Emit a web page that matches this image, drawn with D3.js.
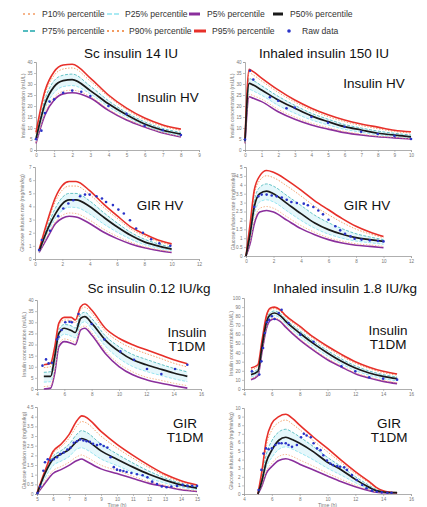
<!DOCTYPE html>
<html>
<head>
<meta charset="utf-8">
<script src="https://cdn.jsdelivr.net/npm/d3@7"></script>
<style>
  body { margin: 0; background: #fff; }
  svg { display: block; font-family: "Liberation Sans", Arial, sans-serif; }
</style>
</head>
<body>
<div id="chart"></div>
<script>
// ---- data ----
var legendLabels = ["P10% percentile", "P25% percentile", "P5% percentile", "P50% percentile",
                    "P75% percentile", "P90% percentile", "P95% percentile", "Raw data"];

// panel 1: Sc insulin 14 IU, insulin HV
var t1 = [0, 0.5, 1, 1.5, 2, 3, 4, 5, 6, 7, 8];
var p1_95 = [8, 27, 35.6, 38.6, 39, 32.7, 25, 19, 14.5, 11.4, 9.5];
var p1_90 = [7.3, 25.5, 33.9, 36.8, 37.3, 31.3, 24.3, 18.3, 13.8, 10.8, 8.9];
var p1_75 = [6, 23.1, 31.5, 34, 34.5, 29, 22.4, 17, 12.8, 9.8, 8];
var p1_50 = [5, 21, 28.8, 31.5, 32, 27, 21, 16, 11.8, 9, 7.2];
var p1_25 = [4.1, 18.8, 26.1, 28.8, 29.3, 25.5, 19.7, 15, 11.2, 8.4, 6.6];
var p1_10 = [3.4, 17, 23.9, 26.7, 27.2, 24.3, 18.6, 14.1, 10.7, 8, 6.2];
var p1_5  = [3, 16, 22.7, 25.5, 26, 23.6, 18, 13.6, 10.4, 7.7, 5.9];
var raw1t = [0, 0.3, 0.5, 0.75, 1, 1.5, 2, 2.5, 3, 4, 5, 6, 7, 8];
var raw1v = [5, 8.8, 16.8, 22, 23, 26, 27, 26.5, 24.5, 20, 16.4, 11, 9, 6.8];

// panel 2: inhaled insulin 150 IU, insulin HV
var t2 = [0, 0.25, 0.5, 1, 2, 3, 4, 5, 6, 7, 8, 9, 10];
var p2_95 = [5, 36.7, 35.6, 32.7, 27.3, 22.7, 19, 16, 13.6, 11.8, 10.4, 9, 8.3];
var p2_90 = [4.8, 35.1, 34.1, 31.4, 26.2, 21.8, 18.1, 15.2, 12.9, 11.1, 9.7, 8.4, 7.7];
var p2_75 = [4.4, 32.5, 31.6, 29.2, 24.4, 20.3, 16.7, 14, 11.6, 10, 8.6, 7.6, 6.8];
var p2_50 = [4, 30.3, 29.5, 27.3, 22.7, 19, 15.5, 12.9, 10.6, 9.1, 7.6, 6.8, 6];
var p2_25 = [3.6, 27.6, 26.8, 24.9, 20.3, 16.7, 13.7, 11.4, 9.4, 8.1, 6.9, 6.3, 5.6];
var p2_10 = [3.2, 25.4, 24.7, 23.1, 18.5, 15, 12.2, 10.2, 8.4, 7.3, 6.3, 5.8, 5.2];
var p2_5  = [3, 24.2, 23.5, 22, 17.4, 14, 11.4, 9.5, 7.9, 6.8, 6, 5.5, 5];
var raw2t = [0, 0.3, 0.5, 1.5, 2, 2.5, 3, 4, 5, 6, 7, 8, 9, 10];
var raw2v = [4.8, 36, 32, 24, 22.4, 19, 19.3, 15, 12.4, 10.6, 8.3, 7.3, 6.4, 5];

// panel 3: Sc insulin 14 IU, GIR HV
var t3 = [0.3, 1, 1.5, 2, 2.5, 3, 4, 5, 6, 7, 8, 9, 10];
var p3_95 = [0.7, 3.2, 4.7, 5.6, 5.9, 5.9, 5.2, 4.2, 3.3, 2.45, 1.9, 1.45, 1.15];
var p3_90 = [0.68, 3.01, 4.39, 5.25, 5.55, 5.55, 4.9, 3.95, 3.1, 2.29, 1.75, 1.34, 1.05];
var p3_75 = [0.64, 2.71, 3.89, 4.69, 4.99, 4.99, 4.42, 3.55, 2.75, 2.03, 1.51, 1.16, 0.89];
var p3_50 = [0.6, 2.45, 3.45, 4.2, 4.5, 4.5, 4.0, 3.2, 2.45, 1.8, 1.3, 1.0, 0.75];
var p3_25 = [0.56, 2.16, 3.11, 3.7, 3.94, 3.92, 3.42, 2.68, 2.05, 1.51, 1.1, 0.84, 0.64];
var p3_10 = [0.52, 1.93, 2.85, 3.32, 3.5, 3.46, 2.96, 2.28, 1.73, 1.28, 0.94, 0.72, 0.55];
var p3_5  = [0.5, 1.8, 2.7, 3.1, 3.25, 3.2, 2.7, 2.05, 1.55, 1.15, 0.85, 0.65, 0.5];
var raw3t = [0.3, 0.5, 1.1, 1.7, 2.07, 2.44, 2.8, 3.3, 3.66, 4.0, 4.5, 4.9, 5.2, 5.7, 6.1, 6.5, 6.95, 7.4, 7.9, 8.5, 9.1, 9.9];
var raw3v = [0.68, 1.44, 2.15, 3.26, 3.84, 4.22, 4.47, 4.77, 4.9, 4.9, 4.77, 4.6, 4.34, 4.1, 3.76, 3.46, 2.95, 2.32, 2.0, 1.5, 1.2, 1.0];

// panel 4: inhaled insulin 150 IU, GIR HV
var t4 = [0, 0.3, 0.6, 1, 1.5, 2, 3, 4, 5, 6, 7, 8, 9, 10];
var p4_95 = [0, 1.8, 3.7, 4.5, 4.8, 4.7, 4.25, 3.7, 3.1, 2.6, 2.1, 1.67, 1.35, 1.1];
var p4_90 = [0, 1.66, 3.46, 4.25, 4.51, 4.4, 3.92, 3.37, 2.79, 2.32, 1.88, 1.51, 1.24, 1.03];
var p4_75 = [0, 1.44, 3.08, 3.86, 4.05, 3.92, 3.38, 2.84, 2.29, 1.87, 1.53, 1.25, 1.07, 0.92];
var p4_50 = [0, 1.25, 2.75, 3.5, 3.65, 3.5, 2.94, 2.38, 1.85, 1.48, 1.22, 1.03, 0.92, 0.82];
var p4_25 = [0, 1.0, 2.32, 3.04, 3.16, 3.04, 2.52, 2.0, 1.56, 1.23, 1.0, 0.84, 0.75, 0.66];
var p4_10 = [0, 0.81, 1.99, 2.68, 2.78, 2.68, 2.19, 1.71, 1.33, 1.03, 0.83, 0.69, 0.62, 0.54];
var p4_5  = [0, 0.7, 1.8, 2.47, 2.56, 2.47, 2.0, 1.54, 1.2, 0.92, 0.73, 0.6, 0.54, 0.47];
var raw4t = [0.6, 0.9, 1.14, 1.5, 1.87, 2.23, 2.6, 2.96, 3.3, 3.7, 4.2, 4.5, 4.9, 5.26, 5.6, 6.0, 6.5, 6.85, 7.2, 7.6, 7.9, 8.4, 9.0, 9.6, 10];
var raw4v = [2.75, 3.35, 3.45, 3.45, 3.4, 3.35, 3.28, 3.16, 3.03, 2.98, 2.94, 2.85, 2.75, 2.56, 2.34, 2.04, 1.67, 1.44, 1.25, 1.1, 0.97, 0.92, 0.88, 0.84, 0.82];

// panel 5: Sc insulin 0.12 IU/kg, insulin T1DM
var t5 = [4.5, 5, 5.3, 5.6, 6, 6.5, 6.8, 7.2, 7.5, 8, 9, 10, 11, 12, 13, 14, 15];
var p5_95 = [10.9, 11.6, 19, 29.6, 32.2, 32.2, 31, 37, 38.2, 35.5, 27.3, 22.8, 19.9, 17.6, 15.4, 13.1, 11.3];
var p5_90 = [9.6, 10.1, 17.9, 28.5, 31, 30.8, 29.8, 35.7, 36.8, 34, 26, 21.3, 18.2, 15.9, 13.8, 11.6, 9.9];
var p5_75 = [7.5, 7.8, 16.1, 26.6, 29, 28.4, 27.4, 33.6, 34.5, 31.7, 23.9, 19, 15.5, 13.3, 11.2, 9.3, 7.7];
var p5_50 = [5.7, 5.7, 14.6, 25, 27.3, 26.3, 25.4, 31.8, 32.5, 29.6, 22, 16.9, 13.1, 10.9, 9, 7.2, 5.7];
var p5_25 = [3.1, 3.3, 11.3, 22.3, 24.6, 23.8, 23, 29.3, 30.2, 27.2, 19.3, 13.8, 10.1, 7.9, 6.2, 4.6, 3.3];
var p5_10 = [1.1, 1.5, 8.7, 20.2, 22.5, 21.7, 21, 27.6, 28.3, 25.4, 17.2, 11.4, 7.7, 5.3, 4, 2.6, 1.5];
var p5_5  = [0, 0.4, 7.2, 19, 21.3, 20.6, 19.9, 26.6, 27.3, 24.3, 16, 10.1, 6.4, 4.2, 2.7, 1.5, 0.4];
var raw5t = [4.4, 4.66, 4.85, 5.1, 5.46, 5.58, 5.8, 6.07, 6.38, 6.55, 7.04, 8.0, 8.93, 10.1, 11.1, 12.05, 13.1, 14.1, 15];
var raw5v = [10.5, 13.3, 11.5, 11.8, 22.3, 23.5, 26.5, 30, 30.2, 30, 33.7, 29.2, 22.3, 16.9, 13.1, 9, 6.7, 9, 10.9];

// panel 6: inhaled insulin 1.8 IU/kg, insulin T1DM
var t6 = [4.5, 5, 5.3, 5.6, 5.9, 6.2, 6.6, 7, 8, 9, 10, 11, 12, 13, 14, 15];
var p6_95 = [23, 26.7, 54, 80, 89, 90, 87, 80.6, 69, 57, 47, 38, 30, 24, 19.4, 16.5];
var p6_90 = [21.2, 24.9, 52.3, 78.1, 87.1, 88.4, 85.4, 79, 67.1, 55.2, 45.2, 36.1, 28.3, 22.4, 18, 15.2];
var p6_75 = [18.3, 22, 49.5, 75.1, 84.2, 85.8, 82.8, 76.6, 64.1, 52.3, 42.3, 33.1, 25.5, 19.8, 15.8, 13.2];
var p6_50 = [15.8, 19.4, 47, 72.5, 81.7, 83.5, 80.6, 74.4, 61.5, 49.8, 39.6, 30.4, 23, 17.6, 13.9, 11.4];
var p6_25 = [13.3, 17.3, 44.5, 69.6, 78.9, 80.6, 77.8, 71.5, 58.1, 46.5, 36.3, 27.6, 20.2, 15.1, 11.4, 8.9];
var p6_10 = [11.4, 15.6, 42.5, 67.3, 76.7, 78.3, 75.6, 69.3, 55.5, 44, 33.7, 25.4, 18, 13.1, 9.5, 7];
var p6_5  = [10.3, 14.7, 41.4, 66, 75.5, 77, 74.4, 68, 54, 42.5, 32.2, 24.2, 16.8, 12, 8.4, 5.9];
var raw6t = [4.57, 5.1, 5.25, 5.37, 5.5, 5.65, 5.8, 6.0, 6.2, 6.5, 6.7, 7.2, 8.05, 9.0, 11, 12, 13, 14, 15];
var raw6v = [19.4, 15.8, 30.4, 45, 61.5, 73.3, 76, 80, 77, 83.5, 87, 72.5, 59.7, 52, 25, 19.4, 12.8, 11.4, 10.3];

// panel 7: Sc insulin 0.12 IU/kg, GIR T1DM
var t7 = [5, 5.5, 6, 6.5, 7, 7.5, 7.8, 8, 9, 10, 11, 12, 13, 14, 15];
var p7_95 = [0.05, 1.2, 2.2, 2.57, 3.07, 3.8, 4.04, 4.0, 3.24, 2.57, 2.0, 1.48, 1.02, 0.69, 0.47];
var p7_90 = [0.04, 1.17, 2.1, 2.44, 2.88, 3.53, 3.75, 3.71, 2.99, 2.38, 1.85, 1.37, 0.94, 0.63, 0.43];
var p7_75 = [0.02, 1.11, 1.94, 2.24, 2.57, 3.1, 3.28, 3.23, 2.58, 2.07, 1.6, 1.18, 0.83, 0.55, 0.36];
var p7_50 = [0, 1.06, 1.8, 2.06, 2.3, 2.73, 2.87, 2.82, 2.23, 1.8, 1.39, 1.02, 0.72, 0.47, 0.3];
var p7_25 = [0, 0.83, 1.47, 1.7, 1.93, 2.33, 2.39, 2.33, 1.81, 1.47, 1.12, 0.81, 0.57, 0.36, 0.22];
var p7_10 = [0, 0.65, 1.21, 1.42, 1.64, 1.93, 2.02, 1.95, 1.49, 1.21, 0.92, 0.64, 0.46, 0.27, 0.16];
var p7_5  = [0, 0.55, 1.06, 1.26, 1.48, 1.73, 1.81, 1.73, 1.3, 1.06, 0.8, 0.55, 0.39, 0.22, 0.13];
var raw7t = [5.04, 5.2, 5.4, 5.5, 5.67, 5.83, 6.04, 6.25, 6.46, 6.67, 6.9, 7.1, 7.3, 7.5, 7.7, 7.9, 8.1, 8.3, 8.5, 8.75, 8.96, 9.17, 9.4, 9.6, 9.8, 10, 10.2, 10.4, 10.6, 10.9, 11.25, 11.6, 11.9, 12.2, 12.5, 12.8, 13.1, 13.4, 13.75, 14.1, 14.4, 14.7, 15];
var raw7v = [0.05, 0.39, 1.2, 1.64, 1.8, 1.73, 1.8, 1.9, 2.06, 2.15, 2.3, 2.4, 2.65, 2.73, 2.82, 2.77, 2.73, 2.7, 2.6, 2.53, 2.57, 2.48, 2.4, 1.9, 1.39, 1.26, 1.22, 1.19, 1.14, 1.09, 1.02, 0.97, 0.86, 0.64, 0.52, 0.39, 0.35, 0.39, 0.42, 0.47, 0.42, 0.42, 0.42];

// panel 8: inhaled insulin 1.8 IU/kg, GIR T1DM
var t8 = [5, 5.3, 5.6, 6, 6.5, 7, 7.5, 8, 9, 10, 11, 12, 13, 13.5, 14, 15];
var p8_95 = [0, 2.8, 6.25, 8.2, 9.0, 9.27, 8.76, 8.0, 6.6, 5.3, 3.9, 2.6, 1.43, 0.77, 0.39, 0.15];
var p8_90 = [0, 2.5, 5.61, 7.43, 8.31, 8.6, 8.1, 7.48, 6.18, 4.9, 3.63, 2.38, 1.27, 0.67, 0.35, 0.15];
var p8_75 = [0, 2.02, 4.59, 6.19, 7.21, 7.53, 7.16, 6.64, 5.5, 4.26, 3.18, 2.02, 1.0, 0.52, 0.29, 0.15];
var p8_50 = [0, 1.6, 3.7, 5.1, 6.25, 6.6, 6.3, 5.9, 4.9, 3.7, 2.8, 1.7, 0.77, 0.39, 0.23, 0.15];
var p8_25 = [0, 1.33, 3.12, 4.25, 5.19, 5.48, 5.2, 4.81, 3.96, 3.0, 2.18, 1.32, 0.6, 0.3, 0.2, 0.12];
var p8_10 = [0, 1.12, 2.66, 3.58, 4.37, 4.6, 4.35, 3.96, 3.22, 2.42, 1.7, 1.02, 0.47, 0.24, 0.17, 0.09];
var p8_5  = [0, 1.0, 2.4, 3.2, 3.9, 4.1, 3.86, 3.47, 2.8, 2.1, 1.43, 0.85, 0.39, 0.2, 0.15, 0.08];
var raw8t = [5.05, 5.25, 5.4, 5.58, 5.77, 6.0, 6.25, 6.5, 6.7, 7, 7.2, 7.45, 7.8, 8.1, 8.3, 8.5, 8.8, 9.0, 9.25, 9.5, 9.7, 9.96, 10.2, 10.4, 10.7, 10.9, 11.2, 11.4, 11.76, 12.1, 12.5, 12.8, 13.2, 13.55, 13.9, 14.3, 14.6];
var raw8v = [0.46, 2.8, 4.7, 5.3, 5.2, 5.3, 5.7, 5.9, 5.9, 5.9, 5.7, 5.5, 5.7, 6.6, 7.0, 6.8, 6.6, 5.9, 5.3, 5.1, 4.5, 3.9, 3.55, 3.36, 3.24, 3.17, 3.1, 2.8, 2.2, 1.62, 1.04, 0.66, 0.39, 0.27, 0.19, 0.15, 0.15];

var titles = ["Sc insulin 14 IU", "Inhaled insulin 150 IU", "Sc insulin 0.12 IU/kg", "Inhaled insulin 1.8 IU/kg"];
var insideLabels = [["Insulin HV"], ["Insulin HV"], ["GIR HV"], ["GIR HV"],
                    ["Insulin", "T1DM"], ["Insulin", "T1DM"], ["GIR", "T1DM"], ["GIR", "T1DM"]];
var yTitles = ["Insulin concentration (mU/L)", "Glucose infusion rate (mg/min/kg)"];

// ---- styles and layout ----
var colors = { p5: "#8a2f9c", p10: "#f6b48a", p25: "#8fe3ef", p50: "#1a1a1a",
               p75: "#55bcc0", p90: "#f39a60", p95: "#e7302a", raw: "#2a33c8" };

var panels = [
  { t: t1, s: [p1_5, p1_10, p1_25, p1_50, p1_75, p1_90, p1_95], rt: raw1t, rv: raw1v,
    x0: 36, x1: 199, yt: 62, yb: 150, xd: [0, 9], xs: 1, yd: [0, 40], ys: 5, yl: 0,
    lab: [168, 97] },
  { t: t2, s: [p2_5, p2_10, p2_25, p2_50, p2_75, p2_90, p2_95], rt: raw2t, rv: raw2v,
    x0: 245, x1: 411, yt: 62, yb: 150, xd: [0, 10], xs: 1, yd: [0, 40], ys: 5, yl: 0,
    lab: [374, 83] },
  { t: t3, s: [p3_5, p3_10, p3_25, p3_50, p3_75, p3_90, p3_95], rt: raw3t, rv: raw3v,
    x0: 35, x1: 199, yt: 167, yb: 259, xd: [0, 12], xs: 2, yd: [0, 7], ys: 1, yl: 1,
    lab: [160, 205] },
  { t: t4, s: [p4_5, p4_10, p4_25, p4_50, p4_75, p4_90, p4_95], rt: raw4t, rv: raw4v,
    x0: 246, x1: 411, yt: 167, yb: 256, xd: [0, 12], xs: 2, yd: [0, 5], ys: 0.5, yl: 1,
    lab: [367, 205] },
  { t: t5, s: [p5_5, p5_10, p5_25, p5_50, p5_75, p5_90, p5_95], rt: raw5t, rv: raw5v,
    x0: 37, x1: 201, yt: 300, yb: 389, xd: [4, 16], xs: 2, yd: [0, 40], ys: 5, yl: 0,
    lab: [187, 332] },
  { t: t6, s: [p6_5, p6_10, p6_25, p6_50, p6_75, p6_90, p6_95], rt: raw6t, rv: raw6v,
    x0: 244, x1: 411, yt: 298, yb: 389, xd: [4, 16], xs: 2, yd: [0, 100], ys: 10, yl: 0,
    lab: [388, 330] },
  { t: t7, s: [p7_5, p7_10, p7_25, p7_50, p7_75, p7_90, p7_95], rt: raw7t, rv: raw7v,
    x0: 37, x1: 197, yt: 407, yb: 494, xd: [5, 15], xs: 1, yd: [0, 4.5], ys: 0.5, yl: 1,
    lab: [185, 423] },
  { t: t8, s: [p8_5, p8_10, p8_25, p8_50, p8_75, p8_90, p8_95], rt: raw8t, rv: raw8v,
    x0: 244, x1: 411, yt: 408, yb: 494, xd: [4, 16], xs: 2, yd: [0, 10], ys: 1, yl: 1,
    lab: [389, 423] }
];

var seriesStyle = [
  { c: colors.p5,  w: 1.6, dash: null },
  { c: colors.p10, w: 0.9, dash: "1.5,1.5" },
  { c: colors.p25, w: 0.9, dash: "3,1.5" },
  { c: colors.p50, w: 1.7, dash: null },
  { c: colors.p75, w: 0.9, dash: "3,1.5" },
  { c: colors.p90, w: 0.9, dash: "1.5,1.5" },
  { c: colors.p95, w: 1.6, dash: null }
];
var drawOrder = [0, 1, 2, 4, 5, 6, 3];

var width = 427, height = 507;
var svg = d3.select("#chart").append("svg")
    .attr("width", width)
    .attr("height", height);

// ---- legend ----
var legendX = [23, 107, 189, 273, 23, 107, 194, 285];
var legendTextX = [42, 125, 207, 290, 42, 129, 212, 302];
var legendMarks = [
  { c: colors.p10, dash: "2,3", w: 2, len: 15 },
  { c: colors.p25, dash: "5,2", w: 1.5, len: 13 },
  { c: colors.p5, dash: null, w: 3, len: 11 },
  { c: colors.p50, dash: null, w: 3, len: 10 },
  { c: colors.p75, dash: "5,2", w: 2, len: 13 },
  { c: colors.p90, dash: "2,3", w: 2, len: 17 },
  { c: colors.p95, dash: null, w: 3, len: 12 },
  { c: colors.raw, dot: true }
];
var legend = svg.append("g").attr("class", "legend");
legendLabels.forEach(function(lbl, i) {
  var y = i < 4 ? 14 : 31;
  var m = legendMarks[i];
  if (m.dot) {
    legend.append("circle").attr("cx", legendX[i] + 4).attr("cy", y).attr("r", 1.8).attr("fill", m.c);
  } else {
    legend.append("line")
        .attr("x1", legendX[i]).attr("x2", legendX[i] + m.len)
        .attr("y1", y).attr("y2", y)
        .attr("stroke", m.c).attr("stroke-width", m.w)
        .attr("stroke-dasharray", m.dash);
  }
  legend.append("text")
      .attr("x", legendTextX[i]).attr("y", y + 3)
      .attr("font-size", "8.6px").attr("fill", "#333")
      .text(lbl);
});

// ---- titles ----
var titlePos = [[131, 58], [324, 58], [149, 293], [345, 293]];
titles.forEach(function(tt, i) {
  svg.append("text")
      .attr("x", titlePos[i][0]).attr("y", titlePos[i][1])
      .attr("text-anchor", "middle")
      .attr("font-size", "13.5px").attr("fill", "#111")
      .text(tt);
});

// ---- panels ----
panels.forEach(function(p, k) {
  var x = d3.scaleLinear().domain(p.xd).range([p.x0, p.x1]);
  var y = d3.scaleLinear().domain(p.yd).range([p.yb, p.yt]);
  var g = svg.append("g").attr("class", "panel");

  var xTicks = d3.range(p.xd[0], p.xd[1] + p.xs / 2, p.xs);
  var yTicks = d3.range(p.yd[0], p.yd[1] + p.ys / 2, p.ys);

  var xAxis = g.append("g")
      .attr("transform", "translate(0," + p.yb + ")")
      .call(d3.axisBottom(x).tickValues(xTicks).tickSize(2).tickPadding(1.5)
        .tickFormat(d3.format("~g")));
  var yAxis = g.append("g")
      .attr("transform", "translate(" + p.x0 + ",0)")
      .call(d3.axisLeft(y).tickValues(yTicks).tickSize(2).tickPadding(1.5)
        .tickFormat(d3.format("~g")));
  [xAxis, yAxis].forEach(function(a) {
    a.select(".domain").attr("stroke", "#9a9a9a").attr("stroke-width", 0.8);
    a.selectAll(".tick line").attr("stroke", "#9a9a9a").attr("stroke-width", 0.6);
    a.selectAll(".tick text").attr("font-size", "4.6px").attr("fill", "#777")
        .attr("font-family", "Liberation Sans, Arial, sans-serif");
  });

  // y axis title
  g.append("text")
      .attr("transform", "translate(" + (p.x0 - 11) + "," + ((p.yt + p.yb) / 2) + ") rotate(-90)")
      .attr("text-anchor", "middle")
      .attr("font-size", "5.2px").attr("fill", "#777")
      .text(yTitles[p.yl]);

  // band between P25 and P75
  var area = d3.area()
      .x(function(d, i) { return x(p.t[i]); })
      .y0(function(d, i) { return y(p.s[2][i]); })
      .y1(function(d, i) { return y(p.s[4][i]); })
      .curve(d3.curveMonotoneX);
  g.append("path").datum(p.t).attr("d", area).attr("fill", "#dff5fa").attr("opacity", 0.8);

  drawOrder.forEach(function(si) {
    var vals = p.s[si];
    var line = d3.line()
        .x(function(d, i) { return x(p.t[i]); })
        .y(function(d) { return y(d); })
        .curve(d3.curveMonotoneX);
    g.append("path").datum(vals)
        .attr("d", line)
        .attr("fill", "none")
        .attr("stroke", seriesStyle[si].c)
        .attr("stroke-width", seriesStyle[si].w)
        .attr("stroke-dasharray", seriesStyle[si].dash);
  });

  g.selectAll("circle.raw").data(p.rt).enter().append("circle")
      .attr("class", "raw")
      .attr("cx", function(d) { return x(d); })
      .attr("cy", function(d, i) { return y(p.rv[i]); })
      .attr("r", 1.3)
      .attr("fill", colors.raw);

  // label inside the panel
  insideLabels[k].forEach(function(line, j) {
    g.append("text")
        .attr("x", p.lab[0]).attr("y", p.lab[1] + 5 + j * 14)
        .attr("text-anchor", "middle")
        .attr("font-size", "13.5px").attr("fill", "#111")
        .text(line);
  });

  if (k >= 6) {
    g.append("text")
        .attr("x", (p.x0 + p.x1) / 2).attr("y", 506.5)
        .attr("text-anchor", "middle")
        .attr("font-size", "5.2px").attr("fill", "#777")
        .text("Time (h)");
  }
});
</script>
</body>
</html>
